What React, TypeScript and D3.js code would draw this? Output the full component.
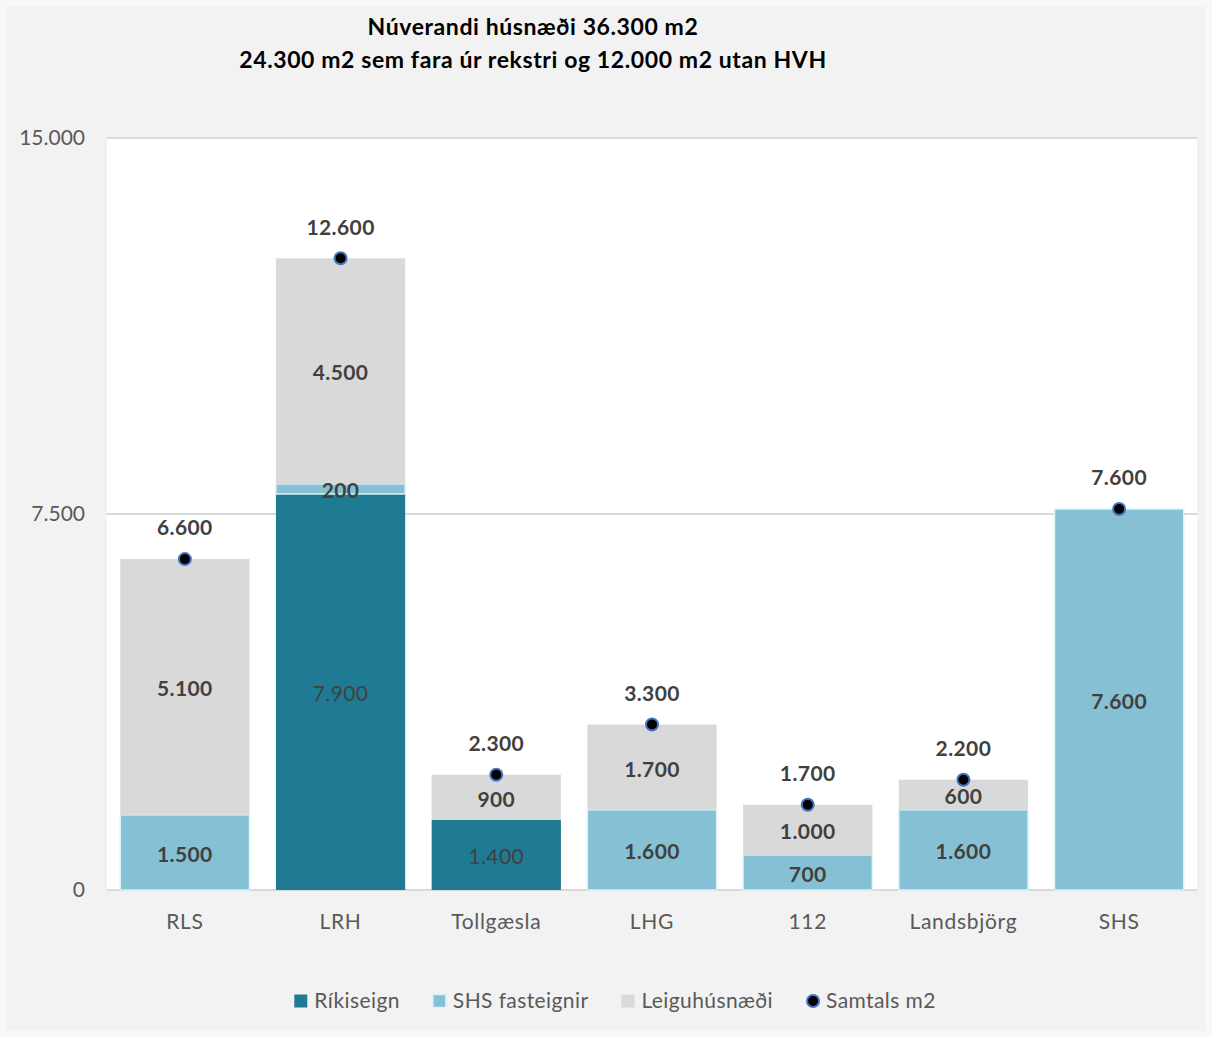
import React from 'react';
import * as d3 from 'd3';

const categories = ['RLS', 'LRH', 'Tollgæsla', 'LHG', '112', 'Landsbjörg', 'SHS'];
const rikiseign = [0, 7900, 1400, 0, 0, 0, 0];
const shsFasteignir = [1500, 200, 0, 1600, 700, 1600, 7600];
const leiguhusnaedi = [5100, 4500, 900, 1700, 1000, 600, 0];
const samtals = [6600, 12600, 2300, 3300, 1700, 2200, 7600];
const yTicks = [0, 7500, 15000];

const titleLines = ['Núverandi húsnæði 36.300 m2', '24.300 m2 sem fara úr rekstri og 12.000 m2 utan HVH'];

const seriesDefs = [
  { key: 'Ríkiseign', values: rikiseign, fill: '#1f7b93', stroke: 'none', bold: false },
  { key: 'SHS fasteignir', values: shsFasteignir, fill: '#86c0d4', stroke: '#dcf2f7', bold: true },
  { key: 'Leiguhúsnæði', values: leiguhusnaedi, fill: '#d9d9d9', stroke: 'none', bold: true },
];

const W = 1212;
const H = 1037;
const FONT = 'Lato, "Open Sans", sans-serif';

// de-DE gives the dot thousand separator used in the source
const fmt = (v: number) => v.toLocaleString('de-DE');

function textWidth(txt: string, size: number, spacing: number) {
  const c = document.createElement('canvas').getContext('2d');
  if (!c) return txt.length * size * 0.5;
  c.font = `${size}px Lato`;
  return c.measureText(txt).width + spacing * txt.length;
}

export default function App() {
  const plot = { left: 107, right: 1197, top: 138, bottom: 890 };

  const x = d3.scaleBand<string>()
    .domain(categories)
    .range([plot.left, plot.right])
    .paddingInner(0.17)
    .paddingOuter(0.085);

  const y = d3.scaleLinear().domain([0, 15000]).range([plot.bottom, plot.top]);

  // stacked layout
  const rows = categories.map((c, i) => {
    const r: Record<string, number | string> = { cat: c };
    seriesDefs.forEach(s => { r[s.key] = s.values[i]; });
    return r;
  });
  const stack = d3.stack<Record<string, number | string>>()
    .keys(seriesDefs.map(s => s.key))
    .value((d, k) => d[k] as number);
  const stacked = stack(rows);

  // legend layout
  const legendItems = [...seriesDefs.map(s => ({ label: s.key, fill: s.fill, stroke: s.stroke, dot: false })),
    { label: 'Samtals m2', fill: '#000', stroke: '#4472c4', dot: true }];
  const legendFont = 21;
  const legendSpacing = 0.4;
  let lx = 0;
  const legendPos = legendItems.map(it => {
    const w = textWidth(it.label, legendFont, legendSpacing);
    const p = { ...it, x: lx, w };
    lx += 20 + w + 33;
    return p;
  });
  const legendTotal = lx - 33;
  const legendStart = 615 - legendTotal / 2;

  const lblSize = 21;
  const lblSpacing = 0.4;

  return (
    <svg width={W} height={H} style={{ display: 'block', position: 'absolute', left: 0, top: 0 }}
      fontFamily={FONT}>
      <rect x={0} y={0} width={W} height={H} fill="#f8f8f8" />
      <rect x={7} y={6} width={W - 14} height={H - 12} fill="#f2f2f2" />

      {/* title */}
      {titleLines.map((t, i) => (
        <text key={t} x={533} y={27 + i * 33} dy="0.35em" textAnchor="middle" fontSize={23} letterSpacing={0.6}
          fontWeight="bold" fill="#000">{t}</text>
      ))}

      {/* plot background */}
      <rect x={plot.left} y={plot.top} width={plot.right - plot.left} height={plot.bottom - plot.top} fill="#fff" />

      {/* gridlines + y ticks */}
      {yTicks.map(t => (
        <g key={t}>
          <line x1={plot.left} x2={plot.right} y1={y(t)} y2={y(t)} stroke="#d9d9d9" strokeWidth={2} />
          <text x={85} y={y(t)} dy="0.35em" textAnchor="end" fontSize={21} fill="#595959">{fmt(t)}</text>
        </g>
      ))}

      {/* bars */}
      {stacked.map((layer, si) => {
        const s = seriesDefs[si];
        return (
          <g key={s.key}>
            {layer.map((d, i) => {
              const v = d[1] - d[0];
              if (v <= 0) return null;
              return (
                <rect key={categories[i]} x={x(categories[i])} y={y(d[1])} width={x.bandwidth()}
                  height={y(d[0]) - y(d[1])} fill={s.fill} stroke={s.stroke} strokeWidth={s.stroke === 'none' ? 0 : 1.5} />
              );
            })}
          </g>
        );
      })}

      {/* segment labels */}
      {stacked.map((layer, si) => {
        const s = seriesDefs[si];
        return (
          <g key={s.key + '-lbl'}>
            {layer.map((d, i) => {
              const v = d[1] - d[0];
              if (v <= 0) return null;
              const cx = (x(categories[i]) ?? 0) + x.bandwidth() / 2;
              return (
                <text key={categories[i]} x={cx} y={y((d[0] + d[1]) / 2) + 2} dy="0.35em" textAnchor="middle"
                  fontSize={lblSize} letterSpacing={lblSpacing} fontWeight={s.bold ? 'bold' : 'normal'} fill="#404040">{fmt(v)}</text>
              );
            })}
          </g>
        );
      })}

      {/* totals */}
      {samtals.map((v, i) => {
        const cx = (x(categories[i]) ?? 0) + x.bandwidth() / 2;
        return (
          <g key={categories[i] + '-tot'}>
            <circle cx={cx} cy={y(v)} r={6} fill="#000" stroke="#4472c4" strokeWidth={2} />
            <text x={cx} y={y(v) - 31} dy="0.35em" textAnchor="middle" fontSize={lblSize} letterSpacing={lblSpacing}
              fontWeight="bold" fill="#404040">{fmt(v)}</text>
          </g>
        );
      })}

      {/* x labels */}
      {categories.map(c => (
        <text key={c} x={(x(c) ?? 0) + x.bandwidth() / 2} y={922} dy="0.35em" textAnchor="middle" fontSize={21}
          letterSpacing={0.7} fill="#595959">{c}</text>
      ))}

      {/* legend */}
      <g transform={`translate(${legendStart},1001)`}>
        {legendPos.map(it => (
          <g key={it.label} transform={`translate(${it.x},0)`}>
            {it.dot
              ? <circle cx={7} cy={0} r={6} fill={it.fill} stroke={it.stroke} strokeWidth={2} />
              : <rect x={0} y={-6.5} width={13} height={13} fill={it.fill} stroke={it.stroke} strokeWidth={it.stroke === 'none' ? 0 : 1.5} />}
            <text x={20} y={0} dy="0.35em" fontSize={legendFont} letterSpacing={legendSpacing} fill="#595959">{it.label}</text>
          </g>
        ))}
      </g>
    </svg>
  );
}
